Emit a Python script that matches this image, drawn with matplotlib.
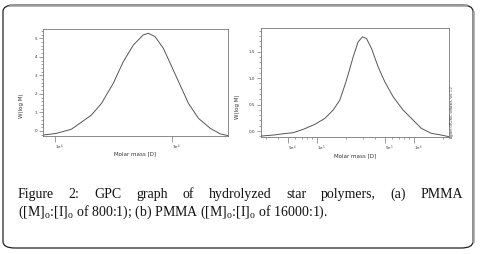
import matplotlib.pyplot as plt
import numpy as np
from matplotlib.patches import FancyBboxPatch
from matplotlib.ticker import FixedLocator, FixedFormatter, MultipleLocator

# (a) PMMA 800:1
mass_a = [8913, 10090, 11610, 12760, 14030, 15420, 17220, 18920, 20800, 22800,
          23930, 25470, 27540, 29790, 32210, 34830, 38280, 42760, 46990, 50470]
w_a = [-0.22, -0.13, 0.09, 0.47, 0.86, 1.49, 2.57, 3.74, 4.64, 5.18,
       5.27, 5.09, 4.46, 3.47, 2.48, 1.49, 0.68, 0.14, -0.16, -0.25]

# (b) PMMA 16000:1
mass_b = [26490, 35480, 48640, 57020, 72280, 95280, 120800, 147200, 172600, 202300,
          237100, 266700, 295800, 325100, 366400, 428500, 502300, 612400, 776200, 984000,
          1199000, 1521000, 1928000, 2312000]
w_b = [-0.095, -0.076, -0.044, -0.032, 0.032, 0.126, 0.239, 0.397, 0.586, 0.964,
       1.405, 1.689, 1.783, 1.752, 1.563, 1.216, 0.933, 0.649, 0.397, 0.208,
       0.050, -0.044, -0.076, -0.107]

xt_a = [1e4, 3e4]
xt_a_lab = ['1e$^4$', '3e$^4$']
yt_a = [0, 1, 2, 3, 4, 5]
xt_b = [5e4, 1e5, 5e5, 1e6]
xt_b_lab = ['5e$^4$', '1e$^5$', '5e$^5$', '1e$^6$']
yt_b = [0.0, 0.5, 1.0, 1.5]

caption1 = ['Figure', '2:', 'GPC', 'graph', 'of', 'hydrolyzed', 'star', 'polymers,', '(a)', 'PMMA']
caption2 = r'([M]$_\mathrm{o}$:[I]$_\mathrm{o}$ of 800:1); (b) PMMA ([M]$_\mathrm{o}$:[I]$_\mathrm{o}$ of 16000:1).'

plt.rcParams['mathtext.fontset'] = 'custom'
plt.rcParams['mathtext.rm'] = 'Liberation Serif'

fig = plt.figure(figsize=(4.8, 2.54), dpi=100)
W, H = 480, 254

def fx(px): return px / W
def fy(py): return 1 - py / H

# border box
box = FancyBboxPatch((fx(3), fy(248)), fx(473) - fx(3), fy(5) - fy(248),
                     boxstyle='round,pad=0,rounding_size=0.025', transform=fig.transFigure,
                     facecolor='none', edgecolor='#222222', lw=0.9)
fig.patches.append(box)
fig.lines.append(plt.Line2D([fx(10), fx(466)], [fy(5), fy(5)], transform=fig.transFigure,
                            color='#9a9a9a', lw=1.8))
fig.lines.append(plt.Line2D([fx(473), fx(473)], [fy(12), fy(241)], transform=fig.transFigure,
                            color='#9a9a9a', lw=1.8))

gray = '#777777'
ax1 = fig.add_axes([fx(43), fy(136), fx(228) - fx(43), fy(29) - fy(136)])
ax2 = fig.add_axes([fx(261), fy(137), fx(449) - fx(261), fy(28) - fy(137)])

for ax in (ax1, ax2):
    ax.set_xscale('log')
    for s in ax.spines.values():
        s.set_color(gray)
        s.set_linewidth(0.6)
    ax.tick_params(which='both', colors=gray, labelcolor='#333333', labelsize=3.0,
                   width=0.5, direction='out', pad=1)
    ax.tick_params(which='major', length=3)
    ax.tick_params(which='minor', length=1.5)
    ax.tick_params(axis='x', which='major', length=4)

ax1.plot(mass_a, w_a, color='#555555', lw=0.7)
ax1.set_xlim(8913, 50470)
ax1.set_ylim(-0.27, 5.5)
ax1.xaxis.set_major_locator(FixedLocator(xt_a))
ax1.xaxis.set_major_formatter(FixedFormatter(xt_a_lab))
ax1.xaxis.set_minor_locator(FixedLocator([]))
ax1.set_yticks(yt_a)
ax1.yaxis.set_minor_locator(MultipleLocator(0.2))
for t in ax1.get_xticklabels():
    t.set_horizontalalignment('left')

ax2.plot(mass_b, w_b, color='#555555', lw=0.7)
ax2.set_xlim(26490, 2312000)
ax2.set_ylim(-0.113, 1.95)
minors = [m * 10 ** e for e in (4, 5, 6) for m in range(2, 10)]
ax2.xaxis.set_major_locator(FixedLocator(xt_b))
ax2.xaxis.set_major_formatter(FixedFormatter(xt_b_lab))
ax2.xaxis.set_minor_locator(FixedLocator(minors))
ax2.set_yticks(yt_b)
ax2.set_yticklabels(['0.0', '0.5', '1.0', '1.5'])
ax2.yaxis.set_minor_locator(MultipleLocator(0.1))
for t in ax2.get_xticklabels():
    t.set_horizontalalignment('left')

lab = dict(fontsize=4.0, color='#333333', ha='center', va='center')
fig.text(fx(22), fy(106), 'W(log M)', rotation=90, **lab)
fig.text(fx(238), fy(107), 'W(log M)', rotation=90, **lab)
fig.text(fx(135), fy(154), 'Molar mass [D]', **lab)
fig.text(fx(355), fy(156), 'Molar mass [D]', **lab)
fig.text(fx(452), fy(112), 'Agilent GPC/SEC software, ver. 1.2', rotation=90,
         fontsize=2.2, color='#333333', ha='center', va='center')

# caption, first line justified
cap = dict(fontsize=10, family='Liberation Serif', color='#111111', va='baseline')
x_left, x_right = fx(18), fx(463)
fig.canvas.draw()
r = fig.canvas.get_renderer()
words = [fig.text(0, fy(198), w, **cap) for w in caption1]
widths = [t.get_window_extent(r).width / W for t in words]
gap = (x_right - x_left - sum(widths)) / (len(words) - 1)
x = x_left
for t, w in zip(words, widths):
    t.set_x(x)
    x += w + gap
fig.text(x_left, fy(216), caption2, **cap)

fig.savefig('out.png', dpi=100)
